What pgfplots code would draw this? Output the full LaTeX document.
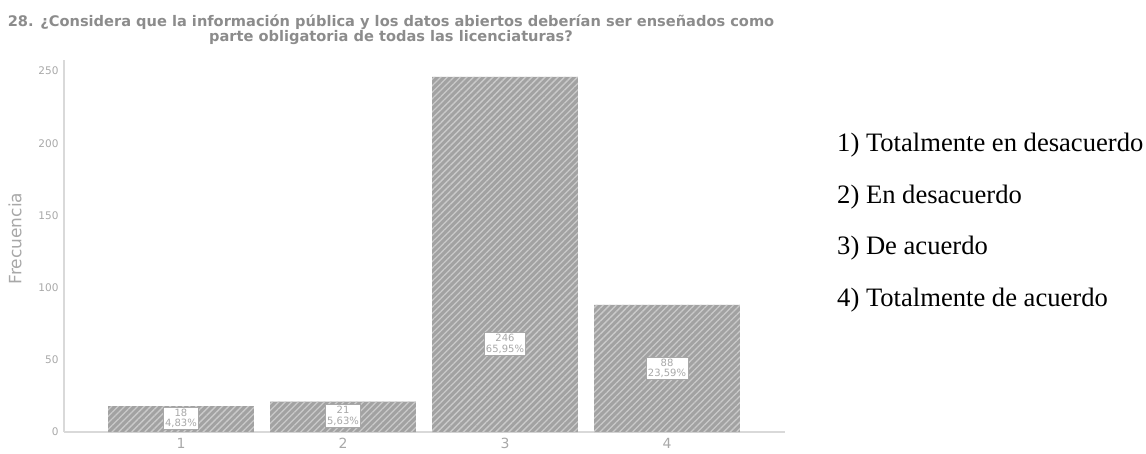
\documentclass[border=0pt]{standalone}
\usepackage{pgfplots}
\pgfplotsset{compat=1.18}
\usepackage{fontspec}
\setmainfont{DejaVu Sans}
\newfontfamily\legfont{Liberation Serif}
\usetikzlibrary{patterns.meta}
\definecolor{bargray}{HTML}{A2A2A2}
\definecolor{stripe}{HTML}{CACACA}
\definecolor{titlegray}{HTML}{8C8C8C}
\definecolor{tickgray}{HTML}{A8A8A8}
\definecolor{axisgray}{HTML}{D9D9D9}
\begin{document}
\begin{tikzpicture}[x=1pt,y=1pt]
\path[use as bounding box] (0,0) rectangle (1146,453);
\begin{axis}[
    at={(64pt,21pt)}, anchor=south west,
    scale only axis, width=721pt, height=372pt,
    xmin=0.278, xmax=4.728, ymin=0, ymax=257.6,
    axis lines*=left,
    axis line style={axisgray, line width=1.2pt, -},
    tick style={draw=none},
    /pgf/number format/assume math mode=true,
    xtick={1,2,3,4},
    ytick={0,50,100,150,200,250},
    yticklabel style={font=\fontsize{10.5}{11}\selectfont, text=tickgray, xshift=-2pt},
    xticklabel style={font=\fontsize{14}{14}\selectfont, text=tickgray, yshift=-3pt},
    ylabel={Frecuencia},
    ylabel style={at={(ticklabel cs:0.52)}, font=\fontsize{17}{17}\selectfont, text=tickgray, yshift=10pt},
    clip=false,
]
\addplot[ybar, bar width=0.9, draw=none, fill=bargray,
    postaction={pattern={Lines[angle=45, distance=4.6pt, line width=1.3pt]}, pattern color=stripe}]
    coordinates {(1,18) (2,21) (3,246) (4,88)};
\addplot[only marks, mark=none, point meta=explicit symbolic,
    nodes near coords, nodes near coords align=center,
    every node near coord/.style={anchor=center, align=center, fill=white, draw=tickgray,
      line width=0.8pt, text=tickgray, inner sep=1.8pt,
      font=\fontsize{10}{10.5}\selectfont}]
    coordinates {(1,9.5) [18\\4,83\%] (2,11) [21\\5,63\%] (3,61) [246\\65,95\%] (4,44) [88\\23,59\%]};
\end{axis}
\node[text=titlegray, font=\bfseries\fontsize{14.6}{15}\selectfont, align=center] at (391,423.5)
  {28. ¿Considera que la información pública y los datos abiertos deberían ser enseñados como\\
   parte obligatoria de todas las licenciaturas?};
\begin{scope}[every node/.style={anchor=west, font=\legfont\fontsize{26.6}{27}\selectfont, inner sep=0pt}]
\node at (837,308) {1) Totalmente en desacuerdo};
\node at (837,256) {2) En desacuerdo};
\node at (837,205) {3) De acuerdo};
\node at (837,153) {4) Totalmente de acuerdo};
\end{scope}
\end{tikzpicture}
\end{document}
